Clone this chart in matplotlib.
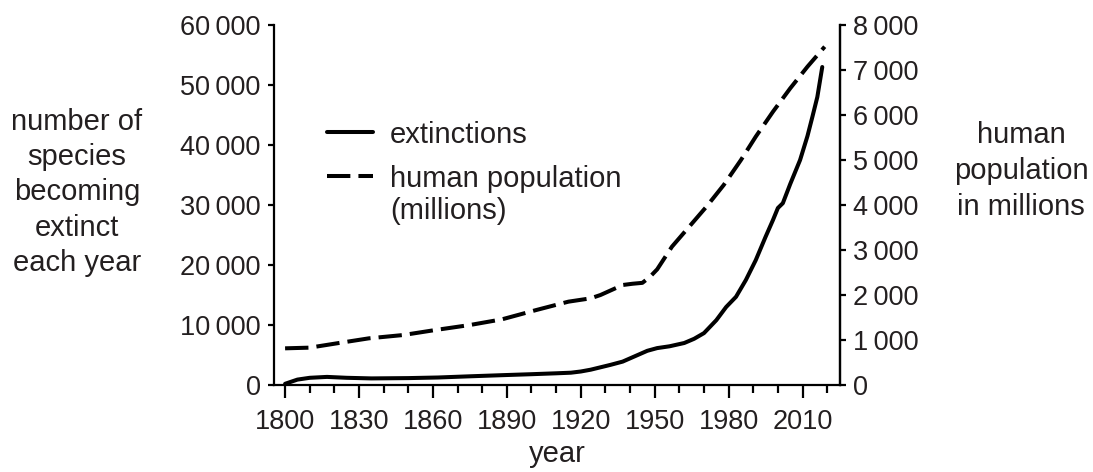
import numpy as np
import matplotlib
matplotlib.use('Agg')
from matplotlib import pyplot as plt

##################
# data
##################
ext_years = [1800, 1805, 1810, 1817, 1825, 1835, 1850, 1862, 1875, 1889, 1900, 1910, 1916, 1920,
             1924, 1928, 1932, 1937, 1942, 1947, 1951, 1956, 1962, 1966, 1970, 1975, 1979, 1983,
             1987, 1991, 1995, 1998, 2000, 2002, 2005, 2009, 2012, 2014, 2016, 2017, 2018]
extinctions = [200, 900, 1200, 1350, 1200, 1100, 1150, 1250, 1450, 1650, 1800, 1950, 2050, 2250,
               2550, 2950, 3350, 3900, 4800, 5700, 6150, 6450, 7000, 7700, 8650, 10800, 13000, 14700,
               17500, 20800, 24700, 27500, 29500, 30300, 33500, 37500, 41500, 44700, 48000, 50500, 53000]

pop_years = [1800, 1810, 1821, 1834, 1848, 1861, 1875, 1888, 1902, 1915, 1924, 1928, 1931, 1937,
             1941, 1945, 1948, 1951, 1957, 1964, 1971, 1978, 1985, 1991, 1998, 2005, 2012, 2019]
population = [815, 830, 926, 1037, 1111, 1222, 1333, 1459, 1667, 1852, 1926, 2000, 2074, 2222,
              2250, 2270, 2400, 2570, 3074, 3518, 3963, 4444, 5000, 5518, 6074, 6593, 7074, 7518]

x_major = [1800, 1830, 1860, 1890, 1920, 1950, 1980, 2010]
x_minor = [1810, 1820, 1840, 1850, 1870, 1880, 1900, 1910, 1930, 1940, 1960, 1970, 1990, 2000, 2020]
left_ticks = [0, 10000, 20000, 30000, 40000, 50000, 60000]
left_labels = ['0', '10\u2009000', '20\u2009000', '30\u2009000', '40\u2009000', '50\u2009000', '60\u2009000']
right_ticks = [0, 1000, 2000, 3000, 4000, 5000, 6000, 7000, 8000]
right_labels = ['0', '1\u2009000', '2\u2009000', '3\u2009000', '4\u2009000', '5\u2009000',
                '6\u2009000', '7\u2009000', '8\u2009000']

left_title = ['number of', 'species', 'becoming', 'extinct', 'each year']
right_title = ['human', 'population', 'in millions']

##################
# style
##################
txt = '#231f20'
plt.rcParams['font.family'] = ['Liberation Sans', 'DejaVu Sans']
plt.rcParams['text.color'] = txt
plt.rcParams['xtick.color'] = 'black'
plt.rcParams['ytick.color'] = 'black'
plt.rcParams['xtick.labelcolor'] = txt
plt.rcParams['ytick.labelcolor'] = txt
plt.rcParams['axes.labelcolor'] = txt

W, H = 1093, 472
fig = plt.figure(figsize=(W / 100, H / 100), dpi=100)
ax = fig.add_axes([274 / W, 1 - 385 / H, 566 / W, 360 / H])
ax2 = ax.twinx()

ax.plot(ext_years, extinctions, color='black', lw=2.9, solid_capstyle='round',
        label='extinctions')
ax2.plot(pop_years, population, color='black', lw=2.9, dashes=(5.8, 2.0),
         label='human population')

ax.set_xlim(1795.5, 2025.2)
ax.set_ylim(0, 60000)
ax2.set_ylim(0, 8000)

ax.set_xticks(x_major)
ax.set_xticks(x_minor, minor=True)
ax.set_yticks(left_ticks, left_labels)
ax2.set_yticks(right_ticks, right_labels)

for a in (ax, ax2):
    a.spines['top'].set_visible(False)
    for s in a.spines.values():
        s.set_linewidth(1.6)
ax2.spines['left'].set_visible(False)
ax2.spines['bottom'].set_visible(False)

fs_tick = 19.5
fs_text = 21
ax.tick_params(axis='x', which='major', length=9, width=1.6, labelsize=fs_tick, pad=8)
ax.tick_params(axis='x', which='minor', length=5.5, width=1.6)
ax.tick_params(axis='y', length=4.5, width=1.6, labelsize=fs_tick, pad=5)
ax2.tick_params(axis='y', length=4.5, width=1.6, labelsize=fs_tick, pad=5)

ax.set_xlabel('year', fontsize=fs_text, labelpad=4)

# axis titles, one text per line
for i, s in enumerate(left_title):
    fig.text(77 / W, 1 - (130 + 35.2 * i) / H, s, ha='center', va='baseline', fontsize=fs_text)
for i, s in enumerate(right_title):
    fig.text(1021 / W, 1 - (143 + 36 * i) / H, s, ha='center', va='baseline', fontsize=fs_text)

h1, l1 = ax.get_legend_handles_labels()
h2, l2 = ax2.get_legend_handles_labels()
leg = ax.legend(h1 + h2, l1 + l2, loc='upper left', bbox_to_anchor=(312 / W, 1 - 106 / H),
                bbox_transform=fig.transFigure, frameon=False, fontsize=fs_text,
                handlelength=1.6, handletextpad=0.58, labelspacing=0.55, borderpad=0)

# second line of the population legend label
fig.canvas.draw()
bb = leg.get_texts()[1].get_window_extent()
fig.text(bb.x0 / W, (bb.y0 - 32) / H, '(millions)', ha='left', va='bottom', fontsize=fs_text)

fig.savefig('out.png', dpi=100)
